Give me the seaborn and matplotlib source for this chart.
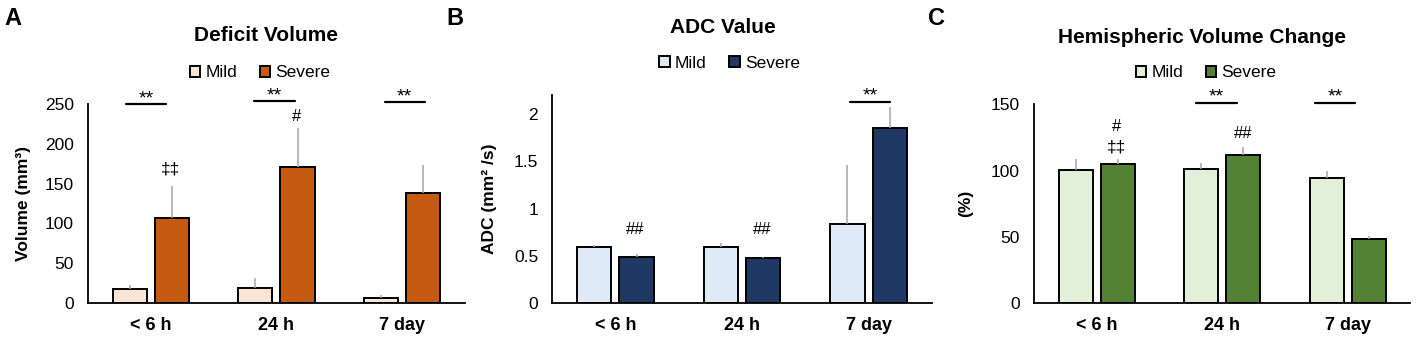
import numpy as np
import pandas as pd
import matplotlib
matplotlib.use("Agg")
import matplotlib.pyplot as plt
import seaborn as sns
from matplotlib.patches import Patch

times = ["< 6 h", "24 h", "7 day"]
groups = ["Mild", "Severe"]

# Deficit volume (mm3)
vol_mild = [17.6, 18.4, 6.3]
vol_severe = [107, 171.5, 138]
vol_mild_err = [5, 13, 3.3]
vol_severe_err = [40, 48, 35.5]

# ADC (mm2/s)
adc_mild = [0.59, 0.59, 0.835]
adc_severe = [0.488, 0.474, 1.846]
adc_mild_err = [0.03, 0.045, 0.63]
adc_severe_err = [0.03, 0.02, 0.225]

# Hemispheric volume change (%)
hem_mild = [100.3, 100.8, 94.6]
hem_severe = [105.1, 111.4, 48.2]
hem_mild_err = [8.3, 4.8, 4.7]
hem_severe_err = [3.5, 6.2, 2.5]

sns.set_style("white")
plt.rcParams["font.family"] = ["Liberation Sans", "DejaVu Sans"]
plt.rcParams["text.color"] = "black"
plt.rcParams["axes.labelcolor"] = "black"
plt.rcParams["xtick.color"] = "black"
plt.rcParams["ytick.color"] = "black"


def make_df(mild, severe):
    return pd.DataFrame({
        "time": times * 2,
        "group": ["Mild"] * 3 + ["Severe"] * 3,
        "value": list(mild) + list(severe),
    })


def panel(ax, mild, severe, mild_err, severe_err, colors, ylim, yticks, yticklabels, ylabel):
    df = make_df(mild, severe)
    sns.barplot(data=df, x="time", y="value", hue="group", order=times, hue_order=groups,
                palette=colors, saturation=1, width=0.67, gap=0.19, edgecolor="black",
                linewidth=1.4, errorbar=None, legend=False, ax=ax)
    for cont, err in zip(ax.containers, [mild_err, severe_err]):
        xs = [b.get_x() + b.get_width() / 2 for b in cont]
        ys = [b.get_height() for b in cont]
        ax.errorbar(xs, ys, yerr=[np.zeros(len(err)), err], fmt="none",
                    ecolor="#a6a6a6", elinewidth=1.1, capsize=0, zorder=1)
    ax.set_xlim(-0.5, 2.5)
    ax.set_ylim(*ylim)
    ax.set_yticks(yticks)
    ax.set_yticklabels(yticklabels, fontsize=12.5)
    ax.set_xlabel("")
    ax.set_ylabel(ylabel, fontsize=12.5, fontweight="bold")
    ax.yaxis.set_label_coords(-0.15, 0.5)
    for lab in ax.get_xticklabels():
        lab.set_fontweight("bold")
        lab.set_fontsize(13)
    ax.tick_params(axis="both", length=0)
    ax.tick_params(axis="x", pad=10)
    ax.tick_params(axis="y", pad=10)
    sns.despine(ax=ax)
    for s in ["left", "bottom"]:
        ax.spines[s].set_color("black")
        ax.spines[s].set_linewidth(1.3)


def sig(ax, x0, x1, y, ytxt):
    ax.plot([x0, x1], [y, y], color="black", lw=1.6, clip_on=False)
    ax.text((x0 + x1) / 2, ytxt, "**", ha="center", va="center", fontsize=14, clip_on=False)


def legend(fig, colors, x, y):
    handles = [Patch(facecolor=c, edgecolor="black", linewidth=1.4) for c in colors]
    fig.legend(handles, groups, loc="center", bbox_to_anchor=(x, y), ncol=2, frameon=False,
               fontsize=12.5, handlelength=0.6, handleheight=0.6, handletextpad=0.3,
               columnspacing=1.3, borderpad=0)


fig = plt.figure(figsize=(14.17, 3.39), dpi=100)
axA = fig.add_axes([0.0621, 0.106, 0.266, 0.587])
axB = fig.add_axes([0.3896, 0.105, 0.2681, 0.615])
axC = fig.add_axes([0.7297, 0.105, 0.2656, 0.588])

cA = ["#fbe5d6", "#c55a11"]
cB = ["#deebf7", "#203864"]
cC = ["#e2f0d9", "#548235"]

panel(axA, vol_mild, vol_severe, vol_mild_err, vol_severe_err, cA, (0, 250),
      [0, 50, 100, 150, 200, 250], ["0", "50", "100", "150", "200", "250"], "Volume (mm³)")
panel(axB, adc_mild, adc_severe, adc_mild_err, adc_severe_err, cB, (0, 2.2),
      [0, 0.5, 1, 1.5, 2], ["0", "0.5", "1", "1.5", "2"], "ADC (mm² /s)")
panel(axC, hem_mild, hem_severe, hem_mild_err, hem_severe_err, cC, (0, 150),
      [0, 50, 100, 150], ["0", "50", "100", "150"], "(%)")
axB.yaxis.set_label_coords(-0.145, 0.5)
axC.yaxis.set_label_coords(-0.162, 0.5)

# significance marks
sig(axA, -0.2, 0.12, 250.4, 257)
sig(axA, 0.82, 1.15, 253.8, 260)
sig(axA, 1.86, 2.18, 252, 259)
axA.text(0.16, 169, "‡‡", ha="center", va="center", fontsize=12.5)
axA.text(1.16, 235, "#", ha="center", va="center", fontsize=12)

sig(axB, 1.85, 2.17, 2.13, 2.19)
axB.text(0.16, 0.78, "##", ha="center", va="center", fontsize=12)
axB.text(1.16, 0.78, "##", ha="center", va="center", fontsize=12)

sig(axC, 0.79, 1.12, 151, 155)
sig(axC, 1.74, 2.06, 151, 155)
axC.text(0.16, 133.4, "#", ha="center", va="center", fontsize=12)
axC.text(0.16, 117.9, "‡‡", ha="center", va="center", fontsize=12.5)
axC.text(1.165, 127.9, "##", ha="center", va="center", fontsize=12)

# titles
fig.text(0.188, 0.894, "Deficit Volume", ha="center", va="center", fontsize=15, fontweight="bold")
fig.text(0.510, 0.920, "ADC Value", ha="center", va="center", fontsize=15, fontweight="bold")
fig.text(0.848, 0.890, "Hemispheric Volume Change", ha="center", va="center", fontsize=15, fontweight="bold")

legend(fig, cA, 0.1835, 0.785)
legend(fig, cB, 0.515, 0.814)
legend(fig, cC, 0.851, 0.785)

# panel letters
fig.text(0.003, 0.945, "A", ha="left", va="center", fontsize=17, fontweight="bold")
fig.text(0.315, 0.945, "B", ha="left", va="center", fontsize=17, fontweight="bold")
fig.text(0.655, 0.945, "C", ha="left", va="center", fontsize=17, fontweight="bold")

fig.savefig("out.png", dpi=100)
